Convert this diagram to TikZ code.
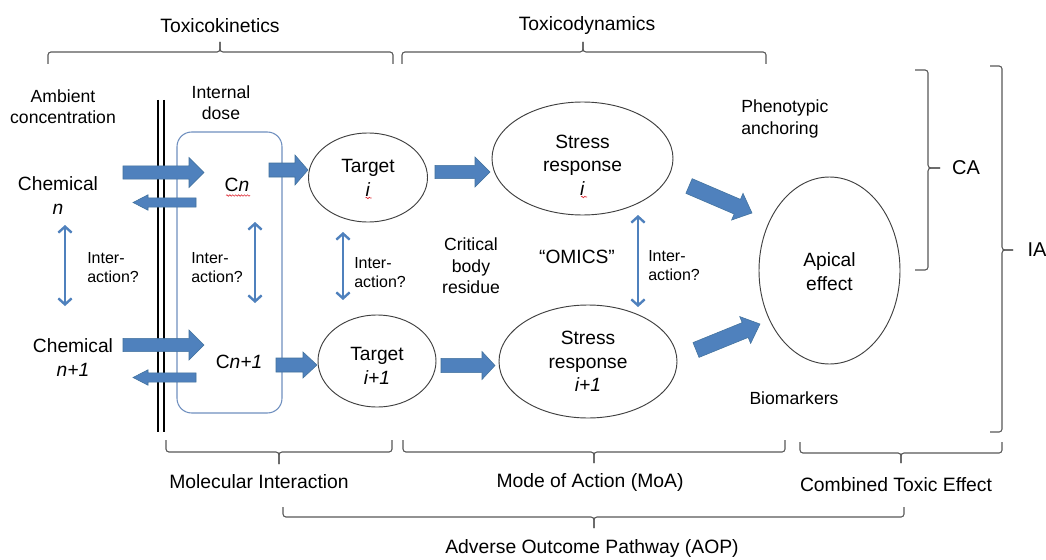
\documentclass[tikz,border=0pt]{standalone}
\usepackage{fontspec}
\setmainfont{Liberation Sans}
\usetikzlibrary{calc,shapes.geometric,arrows.meta,decorations.pathmorphing}

\definecolor{ablue}{HTML}{4F81BD}
\definecolor{aedge}{HTML}{41719C}
\definecolor{boxblue}{HTML}{6F8FBF}
\definecolor{brgray}{HTML}{595959}
\definecolor{elgray}{HTML}{404040}
\definecolor{spellred}{HTML}{E0303A}

\tikzset{
  % block arrow drawn as a polygon: shaft half width / head half width / head length
  blk/.style n args={3}{fill=ablue, draw=aedge, line width=0.4pt, line join=miter,
    to path={($(\tikztostart)!#1!90:(\tikztotarget)$)
      -- ($(\tikztotarget)!#3!(\tikztostart)!#1!90:(\tikztotarget)$)
      -- ($(\tikztotarget)!#3!(\tikztostart)!#2!90:(\tikztotarget)$)
      -- (\tikztotarget)
      -- ($(\tikztotarget)!#3!(\tikztostart)!#2!-90:(\tikztotarget)$)
      -- ($(\tikztotarget)!#3!(\tikztostart)!#1!-90:(\tikztotarget)$)
      -- ($(\tikztostart)!#1!-90:(\tikztotarget)$) -- cycle}},
  fwd/.style={blk={5pt}{11.25pt}{11.25pt}},
  back/.style={blk={3.4pt}{5.8pt}{11.25pt}},
  diag/.style={blk={6pt}{10.9pt}{12pt}},
  inter/.style={draw=ablue, line width=1.8pt,
    {Straight Barb[length=4.5pt,width=10pt]}-{Straight Barb[length=4.5pt,width=10pt]}},
  oval/.style={ellipse, draw=elgray, line width=0.7pt, inner sep=0pt},
  brc/.style={draw=brgray, line width=0.8pt, rounded corners=2.2pt},
  txt/.style={inner sep=0pt, align=center, font=\fontsize{14.4}{17.5}\selectfont},
  note/.style={inner sep=0pt, align=center, font=\fontsize{13.2}{15.5}\selectfont},
  small/.style={inner sep=0pt, align=left, anchor=west, font=\fontsize{12}{14.25}\selectfont},
  head/.style={inner sep=0pt, font=\fontsize{14.5}{17}\selectfont},
  spell/.style={draw=spellred, line width=0.45pt,
    decorate, decoration={snake, amplitude=0.55pt, segment length=2.2pt}}
}

% horizontal brace: x1, x2, tip x, end y, line y, tip y
\newcommand\hbrace[6]{%
  \draw[brc] (#1,#4) -- (#1,#5) -- (#3,#5) -- (#3,#6);
  \draw[brc] (#2,#4) -- (#2,#5) -- (#3,#5) -- (#3,#6);}
% vertical brace: y1, y2, tip y, end x, line x, tip x
\newcommand\vbrace[6]{%
  \draw[brc] (#4,#1) -- (#5,#1) -- (#5,#3) -- (#6,#3);
  \draw[brc] (#4,#2) -- (#5,#2) -- (#5,#3) -- (#6,#3);}

\begin{document}
\begin{tikzpicture}[x=0.75pt, y=-0.75pt]
\useasboundingbox[fill=white] (0,0) rectangle (1046,560);

% ---- braces and their headings ----
\hbrace{48}{393}{220}{64}{52}{42}
\hbrace{402}{766}{583}{64}{52}{42}
\node[head] (tk) at (220,26) {Toxicokinetics};
\node[head] (td) at (587,26) {Toxicodynamics};

\hbrace{166}{392}{279}{440}{452}{464}
\hbrace{403}{785}{594}{440}{452}{463}
\hbrace{800}{1002}{901}{442}{453}{463}
\hbrace{283}{904}{594}{507}{517}{528}
\node[head] (mi)  at (259,482) {Molecular Interaction};
\node[head] (moa) at (590,482) {Mode of Action (MoA)};
\node[head] (cte) at (896,485) {Combined Toxic Effect};
\node[head] (aop) at (592,548) {Adverse Outcome Pathway (AOP)};

\vbrace{70}{270}{168}{915}{928}{940}
\vbrace{66}{432}{250}{990}{1002}{1013}
\node[inner sep=0pt, font=\fontsize{15}{17}\selectfont] (ca) at (966,168) {CA};
\node[inner sep=0pt, font=\fontsize{15}{17}\selectfont] (ia) at (1037,250) {IA};

% ---- membrane and internal compartment ----
\draw[line width=1.3pt] (158,100) -- (158,432);
\draw[line width=1.3pt] (164,100) -- (164,432);
\node[draw=boxblue, line width=0.8pt, rounded corners=11pt, minimum width=78.75pt,
      minimum height=210.75pt, inner sep=0pt] (box) at (229.5,272.5) {};

% ---- labels on the left ----
\node[note] (amb) at (63,107) {Ambient\\concentration};
\node[note] (idose) at (221,102.5) {Internal\\dose};
\node[txt] (chn)  at (58,195.5) {Chemical\\\textit{n}};
\node[txt] (chn1) at (73,357.5) {Chemical\\\textit{n+1}};
\node[txt] (cn)   at (237,185) {C\textit{n}};
\node[txt] (cn1)  at (239,362) {C\textit{n+1}};
\draw[spell] (226,195.5) -- (250,195.5);

% ---- ovals ----
\node[oval, minimum width=89.25pt, minimum height=66.75pt] (tgi)  at (368,177.5) {};
\node[oval, minimum width=88.5pt,  minimum height=69pt]    (tgi1) at (377,361) {};
\node[oval, minimum width=135.75pt, minimum height=84.75pt] (sri)  at (582.5,158.5) {};
\node[oval, minimum width=133.5pt, minimum height=84.75pt] (sri1) at (588,361.5) {};
\node[oval, minimum width=105.75pt, minimum height=140.25pt] (ape) at (829.5,270.5) {};

\node[txt, font=\fontsize{14.4}{18}\selectfont] (tgit)  at (368,178) {Target\\\textit{i}};
\node[txt, font=\fontsize{14.4}{18}\selectfont] (tgi1t) at (377,365.5) {Target\\\textit{i+1}};
\node[txt] (srit)  at (582.5,165) {Stress\\response\\\textit{i}};
\node[txt] (sri1t) at (588,361.5) {Stress\\response\\\textit{i+1}};
\node[txt] (apet)  at (829.5,271.5) {Apical\\effect};
\draw[spell] (365.5,198) -- (371.5,198);
\draw[spell] (581,197) -- (587,197);

% ---- middle annotations ----
\node[note, font=\fontsize{13.2}{16}\selectfont] (cbr) at (471,266) {Critical\\body\\residue};
\node[txt] (omics) at (577,257) {“OMICS”};
\node[note, align=left, anchor=west, font=\fontsize{13.2}{16.5}\selectfont] (pheno) at (741,119) {Phenotypic\\anchoring};
\node[note] (bio) at (794,398) {Biomarkers};

% ---- interaction arrows ----
\coordinate (i1a) at (65,225);  \coordinate (i1b) at (65,306);
\coordinate (i2a) at (255,222); \coordinate (i2b) at (255,303);
\coordinate (i3a) at (343,232); \coordinate (i3b) at (343,300);
\coordinate (i4a) at (638,215); \coordinate (i4b) at (638,307);
\draw[inter] (i1a) -- (i1b);
\draw[inter] (i2a) -- (i2b);
\draw[inter] (i3a) -- (i3b);
\draw[inter] (i4a) -- (i4b);
\node[small] (q1) at (87,267.5)  {Inter-\\action?};
\node[small] (q2) at (191,267.5) {Inter-\\action?};
\node[small] (q3) at (354,273)   {Inter-\\action?};
\node[small] (q4) at (648,266)   {Inter-\\action?};

% ---- block arrows ----
\coordinate (a1s) at (123,172.5); \coordinate (a1e) at (204,172.5);
\coordinate (b1s) at (196,202.5); \coordinate (b1e) at (133,202.5);
\coordinate (c1s) at (269,170);   \coordinate (c1e) at (308,170);
\coordinate (a2s) at (123,345);   \coordinate (a2e) at (204,345);
\coordinate (b2s) at (196,377.5); \coordinate (b2e) at (133,377.5);
\coordinate (c2s) at (276,365);   \coordinate (c2e) at (317,365);
\coordinate (d1s) at (435,172);   \coordinate (d1e) at (490,172);
\coordinate (d2s) at (441,365.5); \coordinate (d2e) at (495,365.5);
\coordinate (e1s) at (689,186);   \coordinate (e1e) at (752,213);
\coordinate (e2s) at (696,350);   \coordinate (e2e) at (760,324);

\draw[fwd]  (a1s) to (a1e);
\draw[back] (b1s) to (b1e);
\draw[blk={5.25pt}{11.25pt}{9.75pt}] (c1s) to (c1e);
\draw[fwd]  (a2s) to (a2e);
\draw[back] (b2s) to (b2e);
\draw[blk={5.25pt}{9.75pt}{10.5pt}] (c2s) to (c2e);
\draw[fwd]  (d1s) to (d1e);
\draw[blk={5.4pt}{10.5pt}{9.75pt}] (d2s) to (d2e);
\draw[diag] (e1s) to (e1e);
\draw[diag] (e2s) to (e2e);
\end{tikzpicture}
\end{document}
